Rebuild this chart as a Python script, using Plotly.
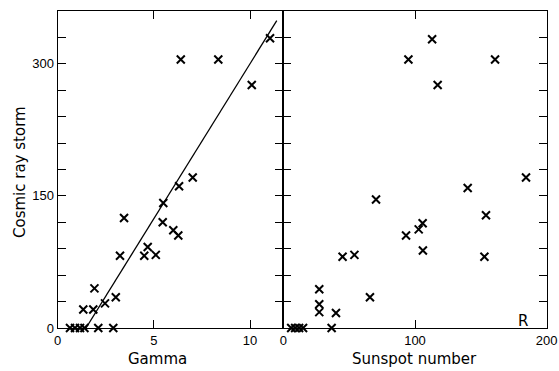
import plotly.graph_objects as go

W, H = 559, 371

# Left panel: Gamma vs cosmic ray storm
gamma = [0.64, 0.9, 1.16, 1.39, 2.11, 2.89, 1.33, 1.85, 1.91, 2.46, 3.02, 3.24, 3.45,
         4.5, 4.68, 5.1, 5.49, 5.46, 6.01, 6.27, 6.31, 7.02, 6.4, 8.35, 10.09, 11.04]
storm_g = [0, 0, 0, 0, 0, 0, 21, 21, 45, 28, 35, 82, 125,
           82, 92, 83, 142, 120, 111, 105, 161, 171, 305, 305, 276, 329]

# fitted line endpoints
fit_x = [1.47, 11.39]
fit_y = [0, 349]

# Right panel: Sunspot number vs cosmic ray storm
sunspot = [6, 9, 12, 15, 36.7, 27.3, 27.3, 27.3, 40, 65.8, 45, 54, 70.4,
           93.2, 102.8, 105.8, 106, 95, 113, 117.2, 140, 153.9, 152.7, 160.8, 184.3]
storm_s = [0, 0, 0, 0, 0, 44, 27, 18, 17, 35, 81, 83, 146,
           105, 112, 119, 88, 305, 328, 276, 159, 128, 81, 305, 171]

y_ticks = list(range(0, 361, 30))
y_labels = [str(v) if v in (0, 150, 300) else "" for v in y_ticks]

FONT = "DejaVu Sans"
TICKFONT = "Liberation Sans"
BLACK = "black"

def px(x):
    return x / W

def py(y):
    return 1 - y / H

x0, xm, x1 = 57.7, 283.3, 546.7
ytop, ybot = 11, 328

fig = go.Figure()
marker = dict(symbol="x-thin", size=8, color=BLACK, line=dict(width=2, color=BLACK))
fig.add_trace(go.Scatter(x=gamma, y=storm_g, mode="markers", marker=marker,
                         xaxis="x", yaxis="y", showlegend=False, cliponaxis=False))
fig.add_trace(go.Scatter(x=fit_x, y=fit_y, mode="lines", line=dict(color=BLACK, width=1.3),
                         xaxis="x", yaxis="y", showlegend=False))
fig.add_trace(go.Scatter(x=sunspot, y=storm_s, mode="markers", marker=marker,
                         xaxis="x2", yaxis="y2", showlegend=False, cliponaxis=False))

common = dict(showgrid=False, zeroline=False, showline=True, linecolor=BLACK, linewidth=1.3,
              ticks="inside", ticklen=8, tickwidth=1.2, tickcolor=BLACK, mirror="ticks",
              automargin=False,
              tickfont=dict(family=TICKFONT, size=13, color=BLACK))

fig.update_layout(
    width=W, height=H, margin=dict(l=0, r=0, t=0, b=0, pad=0),
    paper_bgcolor="white", plot_bgcolor="white",
    font=dict(family=FONT, color=BLACK),
    xaxis=dict(domain=[px(x0), px(xm)], range=[0, 11.73], tickvals=[0, 5, 10],
               ticktext=["0", "5", "10"], anchor="y", **common),
    yaxis=dict(domain=[py(ybot), py(ytop)], range=[0, 360], tickvals=y_ticks,
               ticktext=y_labels, anchor="x", **common),
    xaxis2=dict(domain=[px(xm), px(x1)], range=[0, 200], tickvals=[0, 100, 200],
                ticktext=["0", "100", "200"], anchor="y2", **common),
    yaxis2=dict(domain=[py(ybot), py(ytop)], range=[0, 360], tickvals=y_ticks,
                ticktext=["" for _ in y_ticks], anchor="x2", **common),
)

ann_font = dict(family=FONT, size=15, color=BLACK)
def label(x, y, text, angle=0):
    fig.add_annotation(x=px(x), y=py(y), xref="paper", yref="paper", text=text,
                       showarrow=False, textangle=angle, font=ann_font,
                       xanchor="center", yanchor="middle")

label(157, 359, "Gamma")
label(414, 359, "Sunspot number")
label(20, 172, "Cosmic ray storm", -90)
label(523, 321, "R")

fig.write_html("out.html")
